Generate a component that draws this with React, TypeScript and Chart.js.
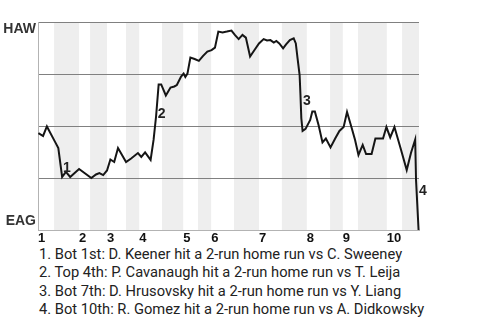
import { useEffect, useRef } from "react";
import { Chart, registerables } from "chart.js";

Chart.register(...registerables);

// Game progress (plays) and HAW win probability (%)
const progress = [
  0.1, 1.2, 2.1, 4.0, 4.8, 5.7, 6.6, 7.6, 9.7, 12.6, 13.7, 14.5, 15.4, 16.3, 17.1, 18.0, 18.9, 20.8, 22.0, 23.6,
  24.4, 25.3, 26.6, 27.3, 27.9, 28.5, 29.1, 30.2, 31.3, 32.2, 32.8, 33.8, 34.4, 34.8, 35.3, 36.0, 37.0, 38.0, 39.0, 40.0,
  41.0, 41.8, 42.6, 43.6, 44.6, 45.7, 46.5, 47.4, 48.3, 49.1, 50.1, 51.3, 52.2, 53.3, 54.1, 54.9, 55.7, 56.3, 57.0, 57.9,
  58.6, 59.5, 60.4, 60.9, 61.3, 61.8, 62.0, 62.2, 62.5, 63.2, 64.3, 64.8, 65.4, 66.3, 67.2, 68.0, 69.1, 70.2, 71.2, 72.2,
  73.0, 74.1, 74.9, 75.7, 76.7, 77.5, 78.8, 79.7, 81.5, 82.3, 83.2, 84.2, 85.6, 87.1, 88.1, 89.1, 89.3, 89.9,
];
const winProb = [
  46.6, 45.2, 49.8, 42.5, 39.4, 25.5, 27.9, 25.5, 29.3, 25.0, 26.7, 27.4, 26.4, 28.6, 33.9, 32.7, 39.4, 32.7, 34.4, 37.0,
  35.1, 37.3, 33.7, 43.3, 54.8, 70.0, 70.0, 64.7, 68.5, 69.0, 69.7, 73.8, 75.2, 73.6, 75.2, 82.9, 82.2, 81.3, 83.7, 85.8,
  86.5, 87.7, 95.4, 95.0, 95.4, 95.9, 93.8, 91.8, 93.8, 92.5, 83.4, 87.0, 89.7, 91.8, 91.1, 91.3, 90.1, 90.9, 89.7, 87.3,
  89.2, 91.3, 92.1, 89.7, 82.7, 74.5, 64.9, 53.8, 47.6, 48.6, 52.9, 57.0, 57.0, 50.2, 42.1, 44.0, 39.7, 44.0, 47.6, 49.5,
  56.7, 49.0, 43.3, 36.1, 40.9, 36.5, 36.5, 44.0, 44.0, 49.5, 44.5, 49.5, 39.7, 28.8, 37.0, 43.5, 24.0, 0,
];

// Half-inning boundaries (top 1st, bot 1st, top 2nd, ...)
const halfInningEdges = [
  0, 3.8, 9.7, 12.3, 16.3, 20.8, 23.9, 29.3, 34.3, 37.8, 40.9, 46.3, 52.2, 57.6, 63.5, 69.0, 72.0, 75.6, 82.4, 86.0, 90,
];
const inningLabels = ["1", "2", "3", "4", "5", "6", "7", "8", "9", "10"];

const gridValues = [0, 25, 50, 75, 100];
const teamLabelValues = [4.3, 96.6];
const teamLabels = ["EAG", "HAW"];

// Home run annotations
const noteX = [5.9, 28.3, 62.6, 90.0];
const noteY = [29.8, 55.8, 62.0, 18.75];
const noteText = ["1", "2", "3", "4"];

const footnotes = [
  "1. Bot 1st: D. Keener hit a 2-run home run vs C. Sweeney",
  "2. Top 4th: P. Cavanaugh hit a 2-run home run vs T. Leija",
  "3. Bot 7th: D. Hrusovsky hit a 2-run home run vs Y. Liang",
  "4. Bot 10th: R. Gomez hit a 2-run home run vs A. Didkowsky",
];

const FONT = "'Liberation Sans', Arial, sans-serif";
const NOTE_FONT = "Roboto, 'Liberation Sans', sans-serif";

const inningStarts = halfInningEdges.filter((_, i) => i % 2 === 0 && i < halfInningEdges.length - 1);

const bandsPlugin = {
  id: "bands",
  beforeDraw(chart: any) {
    const { ctx, chartArea, scales } = chart;
    const x = scales.x;
    ctx.save();
    ctx.fillStyle = "#eeeeee";
    for (let i = 1; i < halfInningEdges.length - 1; i += 2) {
      const x0 = x.getPixelForValue(halfInningEdges[i]);
      const x1 = x.getPixelForValue(halfInningEdges[i + 1]);
      ctx.fillRect(x0, chartArea.top, x1 - x0, chartArea.bottom - chartArea.top);
    }
    ctx.restore();
  },
};

const notesPlugin = {
  id: "notes",
  afterDatasetsDraw(chart: any) {
    const { ctx, scales } = chart;
    ctx.save();
    ctx.font = `bold 14px ${FONT}`;
    ctx.fillStyle = "#222";
    ctx.textAlign = "left";
    ctx.textBaseline = "middle";
    noteText.forEach((t, i) => {
      ctx.fillText(t, scales.x.getPixelForValue(noteX[i]), scales.y.getPixelForValue(noteY[i]));
    });
    ctx.restore();
  },
};

export default function App() {
  const ref = useRef<HTMLCanvasElement>(null);

  useEffect(() => {
    document.body.style.margin = "0";
    const canvas = ref.current!;
    const chart = new Chart(canvas, {
      type: "line",
      data: {
        datasets: [
          {
            data: progress.map((x, i) => ({ x, y: winProb[i] })),
            borderColor: "#151515",
            borderWidth: 2,
            pointRadius: 0,
            tension: 0,
            fill: false,
            clip: false,
          } as any,
        ],
      },
      options: {
        animation: false,
        responsive: false,
        events: [],
        layout: { padding: { left: 0, top: 22, right: 61, bottom: 0 } },
        plugins: { legend: { display: false }, tooltip: { enabled: false } },
        scales: {
          x: {
            type: "linear",
            min: 0,
            max: 90,
            afterBuildTicks: (s: any) => {
              s.ticks = inningStarts.map((v) => ({ value: v }));
            },
            afterFit: (s: any) => {
              s.height = 15;
            },
            ticks: {
              autoSkip: false,
              maxRotation: 0,
              align: "start",
              padding: 1,
              color: "#111",
              font: { family: FONT, size: 13, weight: "bold" },
              callback: (_v: any, i: number) => inningLabels[i],
            },
            grid: { display: false, drawTicks: false },
            border: { display: true, color: "#b3b3b3" },
          },
          y: {
            type: "linear",
            min: 0,
            max: 100,
            afterBuildTicks: (s: any) => {
              s.ticks = [...gridValues, ...teamLabelValues].sort((a, b) => a - b).map((v) => ({ value: v }));
            },
            afterFit: (s: any) => {
              s.width = 38;
            },
            ticks: {
              autoSkip: false,
              padding: 2,
              color: "#333",
              font: { family: FONT, size: 14, weight: "bold" },
              callback: (v: any) => {
                const i = teamLabelValues.indexOf(v);
                return i >= 0 ? teamLabels[i] : "";
              },
            },
            grid: {
              drawTicks: false,
              lineWidth: 1,
              color: (c: any) =>
                c.tick && c.tick.value !== 0 && gridValues.includes(c.tick.value) ? "#808080" : "rgba(0,0,0,0)",
            },
            border: { display: true, color: "#b3b3b3" },
          },
        },
      },
      plugins: [bandsPlugin, notesPlugin],
    });
    return () => chart.destroy();
  }, []);

  return (
    <div style={{ position: "fixed", left: 0, top: 0, width: 480, height: 320, background: "#fff" }}>
      <canvas ref={ref} width={480} height={245} style={{ position: "absolute", left: 0, top: 0 }} />
      <div
        style={{
          position: "absolute",
          left: 39,
          top: 245,
          fontFamily: NOTE_FONT,
          fontSize: 14.7,
          lineHeight: "18.3px",
          color: "#222",
          whiteSpace: "nowrap",
        }}
      >
        {footnotes.map((f, i) => (
          <div key={i}>{f}</div>
        ))}
      </div>
    </div>
  );
}
